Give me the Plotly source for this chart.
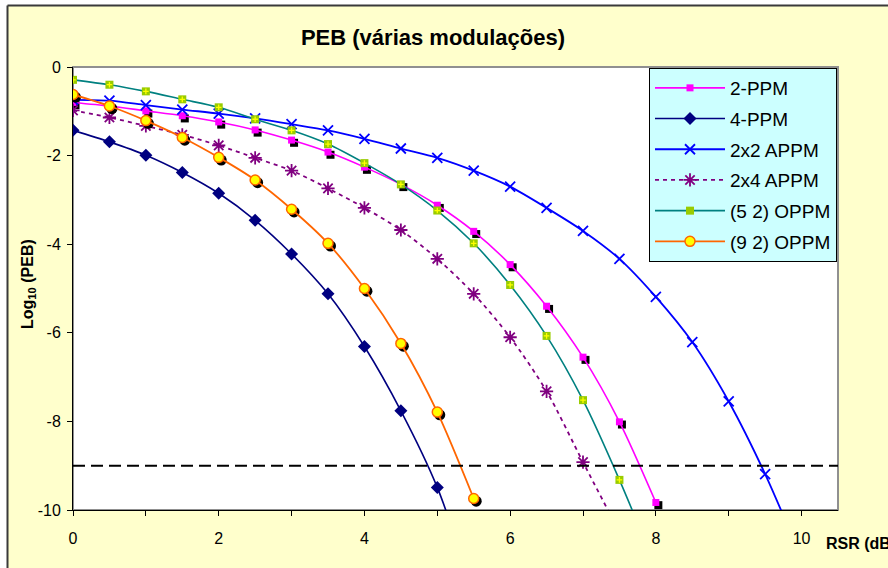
import plotly.graph_objects as go

# ---------------- data ----------------
rsr = [0, 0.5, 1, 1.5, 2, 2.5, 3, 3.5, 4, 4.5, 5, 5.5, 6, 6.5, 7, 7.5, 8, 8.5, 9, 9.5, 10]

series_names = ["2-PPM", "4-PPM", "2x2 APPM", "2x4 APPM", "(5 2) OPPM", "(9 2) OPPM"]

peb_2ppm = [-0.80, -0.88, -0.99, -1.10, -1.24, -1.42, -1.65, -1.92, -2.26, -2.65,
            -3.12, -3.71, -4.46, -5.40, -6.55, -8.01, -9.83]
peb_4ppm = [-1.43, -1.69, -1.99, -2.38, -2.85, -3.46, -4.22, -5.12, -6.31, -7.76,
            -9.49, -11.9]
peb_2x2appm = [-0.74, -0.76, -0.86, -0.96, -1.05, -1.16, -1.29, -1.43, -1.62, -1.84,
               -2.05, -2.34, -2.70, -3.18, -3.70, -4.33, -5.19, -6.21, -7.55, -9.19,
               -11.1]
peb_2x4appm = [-0.98, -1.14, -1.33, -1.53, -1.77, -2.05, -2.34, -2.74, -3.18, -3.68,
               -4.33, -5.12, -6.10, -7.32, -8.92, -10.5]
peb_52oppm = [-0.29, -0.40, -0.55, -0.73, -0.91, -1.18, -1.43, -1.74, -2.17, -2.65,
              -3.24, -3.98, -4.92, -6.07, -7.52, -9.32, -11.3]
peb_92oppm = [-0.62, -0.88, -1.21, -1.59, -2.04, -2.55, -3.21, -3.98, -5.00, -6.24,
              -7.79, -9.74]

threshold = -9

x_tick_vals = [0, 2, 4, 6, 8, 10]
x_tick_text = ["0", "2", "4", "6", "8", "10"]
x_minor_step = 1
y_tick_vals = [-10, -8, -6, -4, -2, 0]
y_tick_text = ["-10", "-8", "-6", "-4", "-2", "0"]

title_text = "<b>PEB (várias modulações)</b>"
x_title = "<b>RSR (dB)</b>"
y_title = "<b>Log<sub>10</sub> (PEB)</b>"

# ---------------- layout geometry ----------------
W, H = 888, 568
ML, MR, MT, MB = 73, 50, 67, 58
PW, PH = W - ML - MR, H - MT - MB
X_RANGE = [0, 10.5]
Y_RANGE = [-10, 0]

def px_x(px):  # pixel -> paper x
    return (px - ML) / PW

def px_y(py):  # pixel -> paper y
    return (H - MB - py) / PH

# shadow offset (pixels -> data units)
SH_DX = 2.5 * (X_RANGE[1] - X_RANGE[0]) / PW
SH_DY = -2.7 * (Y_RANGE[1] - Y_RANGE[0]) / PH

FONT = "Liberation Sans, Arial, sans-serif"

fig = go.Figure()


def add_series(name, y, color, lw, dash, symbol, msize, mcolor, mlc, mlw, shadow):
    xs = rsr[:len(y)]
    if shadow:
        fig.add_trace(go.Scatter(
            x=[v + SH_DX for v in xs], y=[v + SH_DY for v in y], mode="markers",
            marker=dict(symbol=symbol, size=msize + 1, color="black", line=dict(width=0)),
            showlegend=False, legendgroup=name, hoverinfo="skip"))
    fig.add_trace(go.Scatter(
        x=xs, y=y, name=name, mode="lines+markers", legendgroup=name,
        line=dict(color=color, width=lw, dash=dash, shape="spline", smoothing=0.8),
        marker=dict(symbol=symbol, size=msize, color=mcolor,
                    line=dict(color=mlc, width=mlw))))


add_series(series_names[0], peb_2ppm, "#FF00FF", 1.6, "solid", "square", 7,
           "#FF00FF", "#FF00FF", 0, True)
add_series(series_names[1], peb_4ppm, "#000080", 1.6, "solid", "diamond", 10,
           "#000080", "#000080", 0, False)
add_series(series_names[2], peb_2x2appm, "#0000FF", 1.8, "solid", "x-thin-open", 10,
           "#0000FF", "#0000FF", 1.8, False)
add_series(series_names[3], peb_2x4appm, "#800080", 1.8, "4px,4px", "asterisk-open", 11,
           "#800080", "#800080", 1.8, False)
add_series(series_names[4], peb_52oppm, "#008080", 1.6, "solid", "square", 8,
           "#99CC00", "#99CC00", 0, False)
# small yellow plus inside the green squares
fig.add_trace(go.Scatter(
    x=rsr[:len(peb_52oppm)], y=peb_52oppm, mode="markers", showlegend=False,
    legendgroup=series_names[4], hoverinfo="skip",
    marker=dict(symbol="cross-thin-open", size=4, color="#FFFF00",
                line=dict(color="#FFFF00", width=1.3))))
add_series(series_names[5], peb_92oppm, "#FF6600", 1.8, "solid", "circle", 10,
           "#FFFF00", "#FF6600", 1.5, True)

shapes = [
    # white surround outside the chart frame
    dict(type="rect", xref="paper", yref="paper", layer="below",
         x0=px_x(-5), x1=px_x(7), y0=px_y(H + 5), y1=px_y(-5),
         fillcolor="white", line=dict(width=0)),
    dict(type="rect", xref="paper", yref="paper", layer="below",
         x0=px_x(-5), x1=px_x(W + 5), y0=px_y(5), y1=px_y(-5),
         fillcolor="white", line=dict(width=0)),
    # chart frame
    dict(type="line", xref="paper", yref="paper", layer="below",
         x0=px_x(7.5), x1=px_x(W + 5), y0=px_y(5.5), y1=px_y(5.5),
         line=dict(color="#3A3A3A", width=2)),
    dict(type="line", xref="paper", yref="paper", layer="below",
         x0=px_x(7.5), x1=px_x(7.5), y0=px_y(5.5), y1=px_y(H + 5),
         line=dict(color="#3A3A3A", width=2)),
    # plot area border
    dict(type="rect", xref="x domain", yref="y domain", layer="below",
         x0=0, x1=1, y0=0, y1=1, line=dict(color="#909090", width=2)),
    # threshold line
    dict(type="line", xref="x domain", yref="y", x0=0, x1=1,
         y0=threshold, y1=threshold,
         line=dict(color="black", width=2, dash="12px,6px")),
]

annotations = [
    dict(text=x_title, xref="paper", yref="paper", x=px_x(824), y=px_y(543),
         xanchor="left", yanchor="middle", showarrow=False,
         font=dict(family=FONT, size=16, color="black")),
    dict(text=y_title, xref="paper", yref="paper", x=px_x(28), y=px_y(284),
         xanchor="center", yanchor="middle", showarrow=False, textangle=-90,
         font=dict(family=FONT, size=16, color="black")),
]

axis_common = dict(showgrid=False, zeroline=False, showline=True, linecolor="black",
                   linewidth=1, ticks="outside", ticklen=5, tickcolor="black",
                   tickwidth=1, tickfont=dict(family=FONT, size=16, color="black"))

fig.update_layout(
    width=W, height=H,
    margin=dict(l=ML, r=MR, t=MT, b=MB, pad=0),
    paper_bgcolor="#FFFFCC",
    plot_bgcolor="white",
    title=dict(text=title_text, x=px_x(433), xref="paper", xanchor="center",
               y=1 - 37 / H, yref="container", yanchor="middle",
               font=dict(family=FONT, size=22, color="black")),
    xaxis=dict(range=X_RANGE, tickmode="array", tickvals=x_tick_vals,
               ticktext=x_tick_text, ticklabelstandoff=9,
               minor=dict(tickmode="linear", tick0=0, dtick=x_minor_step,
                          ticks="outside", ticklen=5, tickcolor="black", showgrid=False),
               **axis_common),
    yaxis=dict(range=Y_RANGE, tickmode="array", tickvals=y_tick_vals,
               ticktext=y_tick_text, ticklabelstandoff=3, **axis_common),
    legend=dict(x=px_x(649), y=px_y(68), xanchor="left", yanchor="top",
                bgcolor="#CCFFFF", bordercolor="black", borderwidth=1,
                font=dict(family=FONT, size=19, color="black"),
                traceorder="grouped", tracegroupgap=3, itemwidth=70),
    shapes=shapes,
    annotations=annotations,
    showlegend=True,
    hovermode=False,
)

fig.write_html("out.html")
